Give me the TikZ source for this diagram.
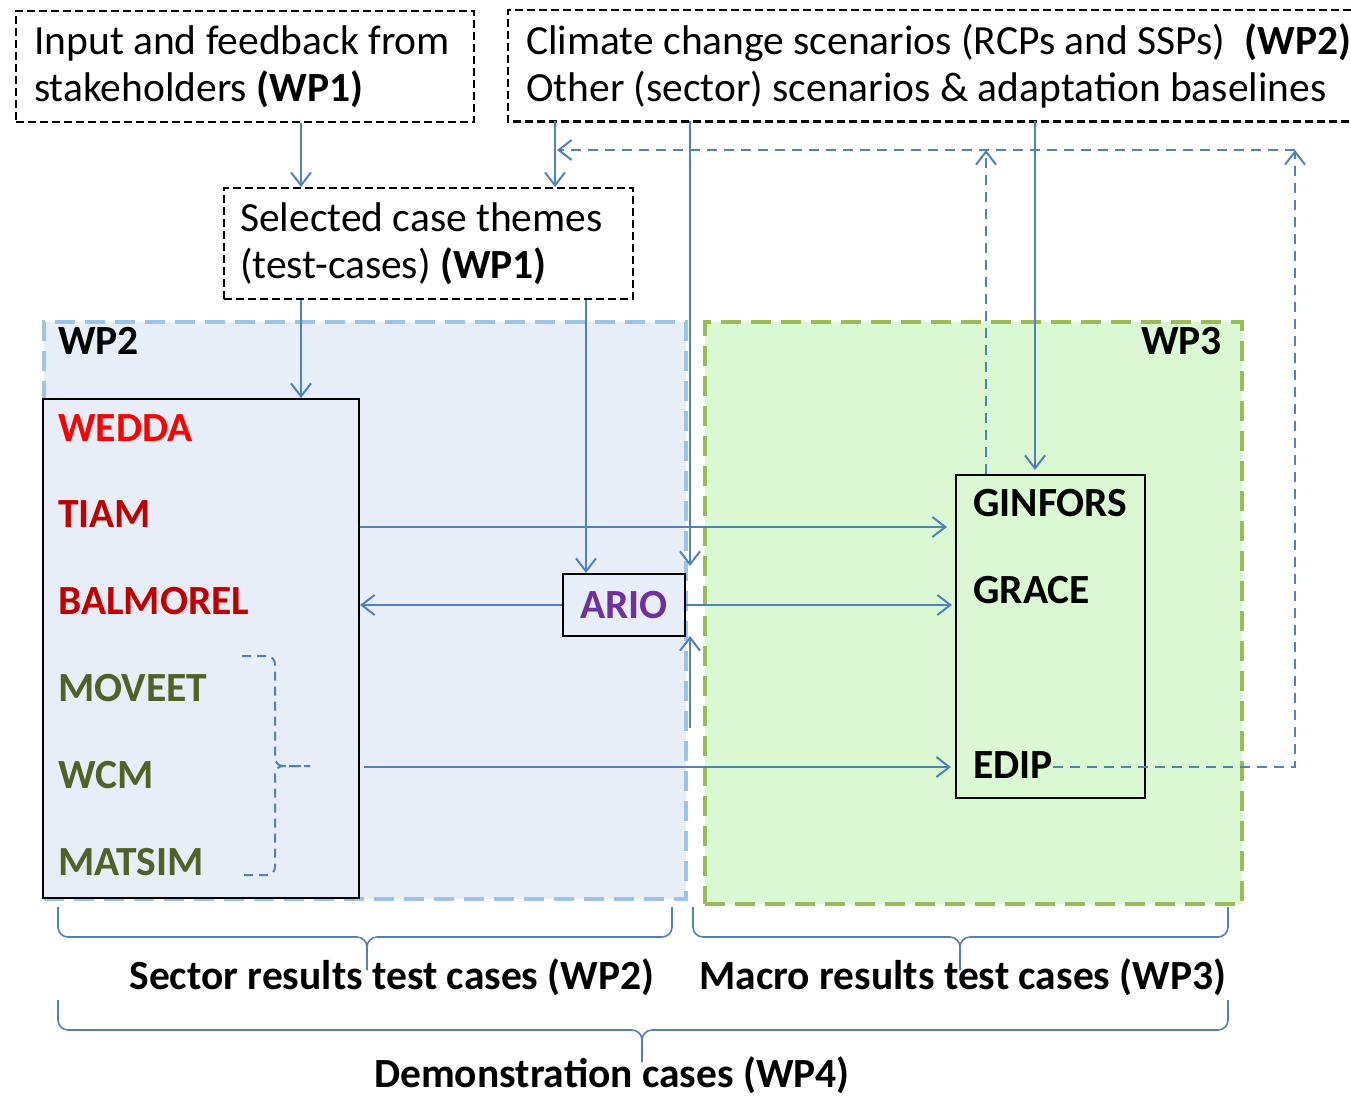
\documentclass[tikz,border=0pt]{standalone}
\usepackage{fontspec}
\setmainfont{Carlito}
\usetikzlibrary{arrows.meta}
\definecolor{arrblue}{HTML}{4F81BD}
\definecolor{wptwofill}{HTML}{E8EEF7}
\definecolor{wptwoline}{HTML}{9DC3E6}
\definecolor{wpthreefill}{HTML}{DAF9D3}
\definecolor{wpthreeline}{HTML}{9BBB59}
\definecolor{redA}{HTML}{FF0000}
\definecolor{redB}{HTML}{C00000}
\definecolor{olive}{HTML}{4F6228}
\definecolor{purp}{HTML}{7030A0}
\newcommand{\mybrace}[6]{%
  \draw[brc,rounded corners=10pt] (#1,#4) -- (#1,#5) -- (#3,#5) -- (#3,#6);
  \draw[brc,rounded corners=10pt] (#2,#4) -- (#2,#5) -- (#3,#5) -- (#3,#6);}
\begin{document}
\begin{tikzpicture}[x=1pt,y=-1pt,
  txt/.style={font=\fontsize{41.5}{47}\selectfont, inner sep=0pt, align=left},
  dbox/.style={draw=black, line width=2.2pt, dash pattern=on 8pt off 4pt, anchor=north west, inner sep=0pt},
  region/.style={line width=4pt, dash pattern=on 20pt off 10pt, anchor=north west, inner sep=0pt},
  sbox/.style={draw=black, line width=2pt, anchor=north west, inner sep=0pt},
  lbl/.style={font=\fontsize{41.5}{47}\selectfont\bfseries, inner sep=0pt, anchor=west},
  arr/.style={draw=arrblue, line width=2pt, -{Straight Barb[length=13pt,width=20pt]}},
  darr/.style={arr, dash pattern=on 10pt off 7pt},
  brc/.style={draw=arrblue, line width=1.6pt},
  lbrc/.style={draw=arrblue, line width=2pt, dash pattern=on 9pt off 6pt}]
\useasboundingbox (0,0) rectangle (1351,1095);
% top boxes
\node[dbox, minimum width=458pt, minimum height=111pt] (box1) at (15,10) {};
\node[txt, anchor=west] (t1) at ([xshift=19pt,yshift=0pt]box1.west) {Input and feedback from\\stakeholders \textbf{(WP1)}};
\node[anchor=north west, inner sep=0pt, minimum width=843pt, minimum height=111pt] (box2) at (508,10) {};
\draw[black, line width=2.2pt, dash pattern=on 8pt off 4pt] (box2.north east) -- (box2.north west) -- (box2.south west) -- (box2.south east);
\node[txt, anchor=west] (t2) at ([xshift=18pt]box2.west) {Climate change scenarios (RCPs and SSPs)\hspace{10pt} \textbf{(WP2)}\\Other (sector) scenarios \& adaptation baselines};
\node[dbox, minimum width=409pt, minimum height=111pt] (box3) at (223,187) {};
\node[txt, anchor=west] (t3) at ([xshift=17pt]box3.west) {Selected case themes\\(test-cases) \textbf{(WP1)}};
% regions
\node[region, draw=wptwoline, fill=wptwofill, minimum width=642pt, minimum height=577pt] (wp2) at (42,320) {};
\node[region, draw=wpthreeline, fill=wpthreefill, minimum width=537pt, minimum height=582pt] (wp3) at (703,320) {};
\node[lbl] (wp2l) at (58,341) {WP2};
\node[lbl, anchor=east] (wp3l) at (1222,341) {WP3};
% model boxes
\node[sbox, fill=wptwofill, minimum width=316pt, minimum height=499pt] (model) at (42,398) {};
\node[lbl, text=redA] (wedda) at (58,428) {WEDDA};
\node[lbl, text=redB] (tiam) at (58,514) {TIAM};
\node[lbl, text=redB] (balmorel) at (58,601) {BALMOREL};
\node[lbl, text=olive] (moveet) at (58,688) {MOVEET};
\node[lbl, text=olive] (wcm) at (58,775) {WCM};
\node[lbl, text=olive] (matsim) at (58,862) {MATSIM};
\node[sbox, fill=wptwofill, minimum width=122pt, minimum height=62pt] (ario) at (562,573) {};
\node[lbl, anchor=center, text=purp] (ariot) at (ario.center) {ARIO};
\node[sbox, fill=wpthreefill, minimum width=189pt, minimum height=323pt] (gbox) at (955,474) {};
\node[lbl] (ginfors) at (973,503) {GINFORS};
\node[lbl] (grace) at (973,590) {GRACE};
\node[lbl] (edip) at (973,765) {EDIP};
% helper coordinates
\coordinate (c301) at (301,0);
\coordinate (c555) at (555,0);
\coordinate (c586) at (586,0);
\coordinate (c690) at (690,0);
\coordinate (c986) at (986,0);
\coordinate (c1035) at (1035,0);
\coordinate (c1295) at (1295,0);
\coordinate (yfb) at (0,150);
\coordinate (y527) at (0,527);
\coordinate (y767) at (0,767);
\coordinate (arioin) at (690,566);
\coordinate (arioupend) at (690,636);
\coordinate (arioupstart) at (690,728);
% small dashed brace
\draw[lbrc, rounded corners=8pt] (242,656) -- (275,656) -- (275,766) -- (310,766);
\draw[lbrc, rounded corners=8pt] (244,875) -- (275,875) -- (275,766) -- (310,766);
% arrows
\draw[arr] (box1.south -| c301) -- (box3.north -| c301);
\draw[arr] (box2.south -| c555) -- (box3.north -| c555);
\draw[arr] (box3.south -| c301) -- (model.north -| c301);
\draw[arr] (box3.south -| c586) -- (ario.north -| c586);
\draw[arr] (box2.south -| c690) -- (arioin);
\draw[arr] (arioupstart) -- (arioupend);
\draw[arr] (box2.south -| c1035) -- ([yshift=4pt]gbox.north -| c1035);
\draw[arr, shorten >=8pt] (model.east |- y527) -- (gbox.west |- y527);
\draw[arr] (ario.west) -- (model.east |- ario.west);
\draw[arr, shorten >=3pt] (ario.east) -- (gbox.west |- ario.east);
\draw[arr, shorten <=4pt, shorten >=4pt] (model.east |- y767) -- (gbox.west |- y767);
% dashed feedback arrows
\draw[darr] (gbox.north -| c986) -- (c986 |- yfb);
\draw[darr] (edip.east |- y767) -- (c1295 |- y767) -- (c1295 |- yfb);
\draw[darr, shorten >=2pt] (c1295 |- yfb) -- (c555 |- yfb);
% braces
\mybrace{58}{672}{367}{907}{937}{970}
\mybrace{693}{1228}{960}{907}{937}{970}
\mybrace{58}{1228}{642}{1000}{1030}{1062}
\node[lbl, anchor=center] (sector) at (392,977) {Sector results test cases (WP2)};
\node[lbl, anchor=center] (macro) at (963,977) {Macro results test cases (WP3)};
\node[lbl, anchor=center] (demo) at (612,1075) {Demonstration cases (WP4)};
\end{tikzpicture}
\end{document}
